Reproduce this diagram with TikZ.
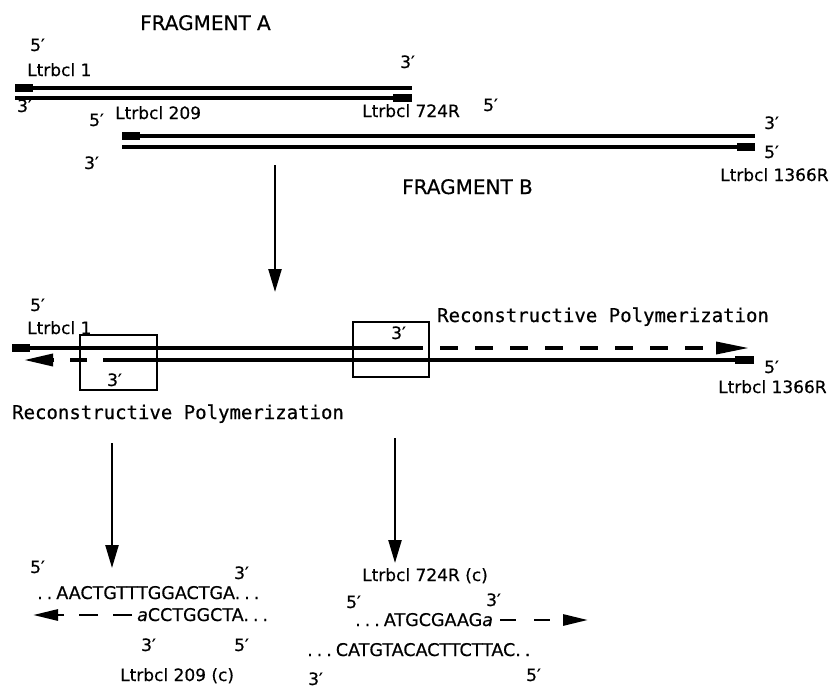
\documentclass[tikz,border=0pt]{standalone}
\usepackage{fontspec}
\setmainfont{DejaVu Sans}[FakeBold=0.5]
\newfontfamily\monof{DejaVu Sans Mono}[FakeBold=0.6]
\usetikzlibrary{arrows.meta}
\newcommand{\sqdot}{.\kern4pt}
\tikzset{
  lbl/.style={font=\fontsize{17}{20}\selectfont, anchor=base west, inner sep=0pt},
  big/.style={font=\fontsize{20}{24}\selectfont, anchor=base west, inner sep=0pt},
  seq/.style={font=\fontsize{17.5}{20}\selectfont, anchor=base west, inner sep=0pt},
  mono/.style={font=\monof\fontsize{19}{22}\selectfont, anchor=base west, inner sep=0pt},
  strand/.style={line width=3.5pt},
  primer/.style={line width=8pt},
  downarrow/.style={line width=2.4pt, -{Triangle[length=23pt,width=13pt]}},
  dasharrow/.style={line width=3.5pt, -{Triangle[length=#1,width=12pt]}},
  frame/.style={draw, line width=1.5pt, inner sep=0pt}
}
\begin{document}
\begin{tikzpicture}[x=1pt,y=-1pt]
\useasboundingbox (0,0) rectangle (830,688);
% ---------- Fragment A ----------
\node[big] (fa) at (140,30) {FRAGMENT A};
\node[lbl] (fa5) at (30,51) {5′};
\node[lbl] (fal1) at (27,76) {Ltrbcl 1};
\node[lbl] (fa3r) at (400,68) {3′};
\node[lbl] (fa3l) at (17,112) {3′};
\node[lbl] (fal209) at (115,119) {Ltrbcl 209};
\node[lbl] (fal724) at (362,117) {Ltrbcl 724R};
\node[lbl] (fa5r) at (483,111) {5′};
\coordinate (at1) at (15,88);  \coordinate (at2) at (412,88);
\coordinate (ab1) at (15,98);  \coordinate (ab2) at (412,98);
\draw[strand] (at1) -- (at2);
\draw[strand] (ab1) -- (ab2);
\draw[primer] (at1) -- ++(18,0);
\draw[primer] (ab2) -- ++(-19,0);
% ---------- Fragment B ----------
\node[lbl] (fb5) at (89,126) {5′};
\node[lbl] (fb3) at (84,169) {3′};
\node[lbl] (fb3r) at (764,129) {3′};
\node[lbl] (fb5r) at (764,158) {5′};
\node[lbl] (fbl1366) at (720,181) {Ltrbcl 1366R};
\node[big] (fb) at (402,194) {FRAGMENT B};
\coordinate (bt1) at (122,136); \coordinate (bt2) at (755,136);
\coordinate (bb1) at (122,147); \coordinate (bb2) at (755,147);
\draw[strand] (bt1) -- (bt2);
\draw[strand] (bb1) -- (bb2);
\draw[primer] (bt1) -- ++(18,0);
\draw[primer] (bb2) -- ++(-18,0);
% arrow down
\coordinate (d1s) at (275,165); \coordinate (d1e) at (275,292);
\draw[downarrow] (d1s) -- (d1e);
% ---------- Middle ----------
\node[lbl] (m5) at (30,311) {5′};
\node[lbl] (ml1) at (27,334) {Ltrbcl 1};
\node[frame, minimum width=77pt, minimum height=55pt] (box1) at (118.5,362.5) {};
\node[frame, minimum width=76pt, minimum height=55pt] (box2) at (391,349.5) {};
\node[lbl] (m3l) at (107,386) {3′};
\node[lbl] (m3r) at (391,339) {3′};
\coordinate (mt1) at (12,348);  \coordinate (mt2) at (423,348);
\coordinate (mb1) at (103,360); \coordinate (mb2) at (754,360);
\coordinate (mtip) at (749,348); \coordinate (mltip) at (24,360);
\draw[strand] (mt1) -- (mt2);
\draw[strand] (mb1) -- (mb2);
\draw[primer] (mt1) -- ++(18,0);
\draw[primer] (mb2) -- ++(-19,0);
\draw[dasharrow=33pt, dash pattern=on 18pt off 17pt, dash phase=18pt] (mt2) -- (mtip);
\draw[dasharrow=29pt, dash pattern=on 17pt off 16pt, dash phase=17pt] (mb1) -- (mltip);
\node[mono] (rp1) at (437,322) {Reconstructive Polymerization};
\node[mono] (rp2) at (12,419) {Reconstructive Polymerization};
\node[lbl] (m5r) at (764,373) {5′};
\node[lbl] (ml1366) at (718,393) {Ltrbcl 1366R};
% down arrows
\coordinate (d2s) at (112,443); \coordinate (d2e) at (112,568);
\coordinate (d3s) at (395,438); \coordinate (d3e) at (395,563);
\draw[downarrow] (d2s) -- (d2e);
\draw[downarrow] (d3s) -- (d3e);
% ---------- Bottom left ----------
\node[lbl] (bl5) at (30,573) {5′};
\node[lbl] (bl3) at (234,579) {3′};
\node[seq] (s1) at (37,599) {\sqdot\sqdot AACTGTTTGGACTGA\sqdot\sqdot.};
\node[seq] (s2) at (137,621) {\textit{a}CCTGGCTA\sqdot\sqdot.};
\coordinate (s2tip) at (33,615);
\draw[line width=2.8pt, -{Triangle[length=25pt,width=11pt]}, dash pattern=on 19pt off 15pt, dash phase=31pt] (s2.west |- s2tip) ++(-2,0) -- (s2tip);
\node[lbl] (bl3b) at (141,651) {3′};
\node[lbl] (bl5b) at (234,651) {5′};
\node[lbl] (bl209) at (120,681) {Ltrbcl 209 (c)};
% ---------- Bottom right ----------
\node[lbl] (br724) at (362,581) {Ltrbcl 724R (c)};
\node[lbl] (br5) at (346,608) {5′};
\node[lbl] (br3) at (486,606) {3′};
\node[seq] (s3) at (355,626) {\sqdot\sqdot\sqdot ATGCGAAG\textit{a}};
\coordinate (s3tip) at (588,620);
\draw[line width=2.8pt, -{Triangle[length=25pt,width=11pt]}, dash pattern=on 16pt off 18pt, dash phase=30pt] (s3.east |- s3tip) ++(3,0) -- (s3tip);
\node[seq] (s4) at (307,656) {\sqdot\sqdot\sqdot CATGTACACTTCTTAC\sqdot.};
\node[lbl] (br3b) at (308,685) {3′};
\node[lbl] (br5b) at (526,681) {5′};
\end{tikzpicture}
\end{document}
